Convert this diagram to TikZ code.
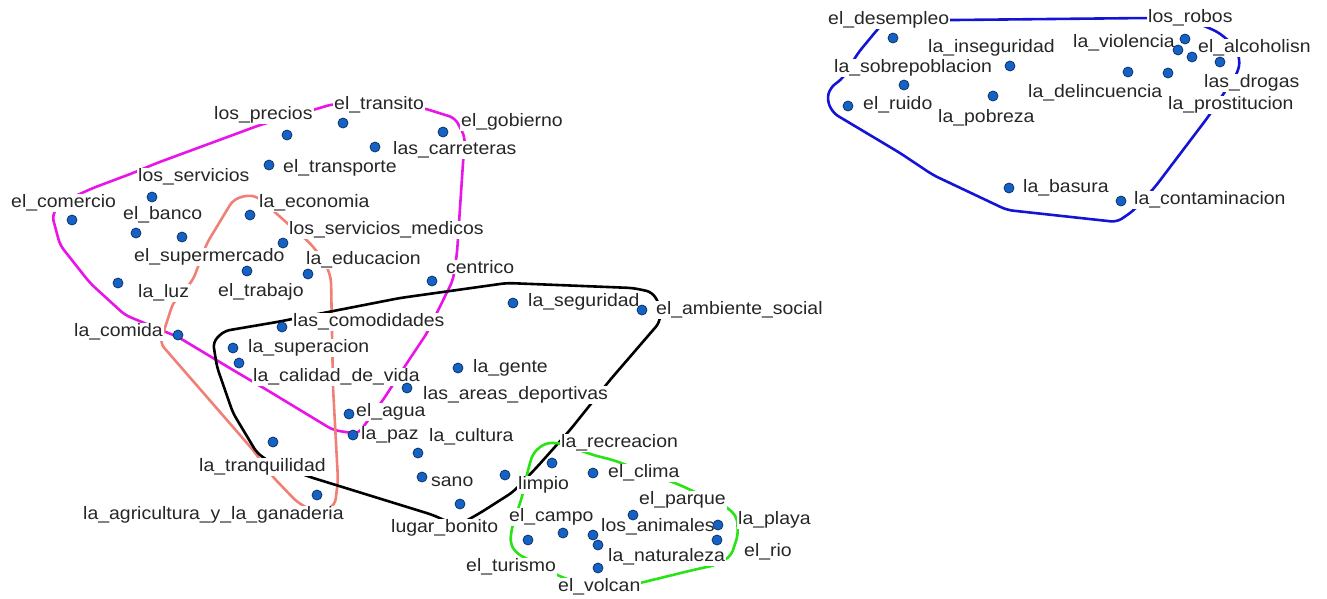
\documentclass[tikz,border=0pt]{standalone}
\usepackage{fontspec}
\setmainfont{Liberation Sans}[FakeStretch=1.08]
\usepackage{tikz}
\usepackage{xcolor}
\definecolor{dotblue}{RGB}{22,98,196}
\definecolor{hullmagenta}{RGB}{232,20,232}
\definecolor{hullsalmon}{RGB}{240,128,118}
\definecolor{hullgreen}{RGB}{40,228,20}
\definecolor{hullblue}{RGB}{20,20,215}
\tikzset{
    term-dot/.style = {circle, fill=dotblue, draw=dotblue!55!black, line width=0.8pt, minimum size=10pt, inner sep=0pt},
    term-label/.style = {anchor=west, fill=white, text=black!85, inner xsep=1pt, inner ysep=0.5pt, font=\fontsize{18pt}{20pt}\selectfont},
    hull-line/.style = {line width=2.6pt, rounded corners=6pt, line join=round},
}

\begin{document}
\begin{tikzpicture}[x=1pt, y=-1pt]
\useasboundingbox (0,0) rectangle (1327,598);

\draw[hull-line, hullmagenta] (52,215) -- (60,245) -- (90,283) -- (125,315) -- (178,337) -- (233,370) -- (267,390) -- (333,430) -- (358,434) -- (383,400) -- (407,363) -- (427,333) -- (453,280) -- (457,253) -- (463,163) -- (465,137) -- (455,118) -- (423,108) -- (333,104) -- (313,110) -- (260,125) -- (157,163) -- (133,173) -- (93,188) -- (62,202) -- cycle;
\draw[hull-line, hullsalmon] (207,243) -- (233,200) -- (247,195) -- (258,197) -- (287,223) -- (310,243) -- (325,262) -- (331,278) -- (333,387) -- (338,480) -- (335,505) -- (318,514) -- (297,502) -- (273,477) -- (253,450) -- (160,343) -- (173,303) -- (193,280) -- cycle;
\draw[hull-line, black] (257,453) -- (233,413) -- (217,367) -- (213,342) -- (224,331) -- (277,322) -- (400,298) -- (507,283) -- (633,288) -- (652,292) -- (660,305) -- (660,322) -- (610,380) -- (570,430) -- (537,467) -- (513,492) -- (480,513) -- (457,526) -- (433,515) -- (310,477) -- (270,462) -- cycle;
\draw[hull-line, hullgreen] (560,443) -- (545,443) -- (533,453) -- (528,470) -- (522,497) -- (512,527) -- (510,543) -- (516,553) -- (557,575) -- (600,592) -- (640,583) -- (693,570) -- (716,565) -- (731,556) -- (738,535) -- (737,517) -- (727,507) -- (680,485) -- (613,460) -- (593,455) -- cycle;
\draw[hull-line, hullblue] (955,20) -- (1147,18) -- (1195,22) -- (1218,32) -- (1235,46) -- (1240,60) -- (1238,72) -- (1208,117) -- (1155,187) -- (1133,211) -- (1117,222) -- (1007,210) -- (933,175) -- (900,153) -- (833,113) -- (827,100) -- (830,88) -- (843,78) -- (858,53) -- (877,30) -- (886,20) -- cycle;

\node[term-label] (precios-txt) at (213,115) {los\_precios};
\node[term-label] (transito-txt) at (333,105) {el\_transito};
\node[term-label] (gobierno-txt) at (460,122) {el\_gobierno};
\node[term-label] (carreteras-txt) at (392,150) {las\_carreteras};
\node[term-label] (transporte-txt) at (282,168) {el\_transporte};
\node[term-label] (servicios-txt) at (137,177) {los\_servicios};
\node[term-label] (comercio-txt) at (10,203) {el\_comercio};
\node[term-label] (banco-txt) at (122,215) {el\_banco};
\node[term-label] (economia-txt) at (258,203) {la\_economia};
\node[term-label] (medicos-txt) at (288,230) {los\_servicios\_medicos};
\node[term-label] (supermercado-txt) at (133,257) {el\_supermercado};
\node[term-label] (educacion-txt) at (305,260) {la\_educacion};
\node[term-label] (centrico-txt) at (445,267) {centrico};
\node[term-label] (trabajo-txt) at (217,292) {el\_trabajo};
\node[term-label] (luz-txt) at (137,293) {la\_luz};
\node[term-label] (comida-txt) at (73,332) {la\_comida};
\node[term-label] (comodidades-txt) at (292,322) {las\_comodidades};
\node[term-label] (superacion-txt) at (247,348) {la\_superacion};
\node[term-label] (calidad-txt) at (252,377) {la\_calidad\_de\_vida};
\node[term-label] (seguridad-txt) at (527,302) {la\_seguridad};
\node[term-label] (ambiente-txt) at (655,310) {el\_ambiente\_social};
\node[term-label] (gente-txt) at (472,368) {la\_gente};
\node[term-label] (areas-txt) at (422,395) {las\_areas\_deportivas};
\node[term-label] (agua-txt) at (355,412) {el\_agua};
\node[term-label] (paz-txt) at (360,435) {la\_paz};
\node[term-label] (cultura-txt) at (428,437) {la\_cultura};
\node[term-label] (tranquilidad-txt) at (198,467) {la\_tranquilidad};
\node[term-label] (sano-txt) at (430,482) {sano};
\node[term-label] (agricultura-txt) at (82,515) {la\_agricultura\_y\_la\_ganaderia};
\node[term-label] (bonito-txt) at (390,528) {lugar\_bonito};
\node[term-label] (limpio-txt) at (517,485) {limpio};
\node[term-label] (recreacion-txt) at (560,443) {la\_recreacion};
\node[term-label] (clima-txt) at (607,473) {el\_clima};
\node[term-label] (parque-txt) at (638,500) {el\_parque};
\node[term-label] (campo-txt) at (508,517) {el\_campo};
\node[term-label] (animales-txt) at (600,527) {los\_animales};
\node[term-label] (playa-txt) at (737,520) {la\_playa};
\node[term-label] (rio-txt) at (743,552) {el\_rio};
\node[term-label] (naturaleza-txt) at (607,557) {la\_naturaleza};
\node[term-label] (turismo-txt) at (465,567) {el\_turismo};
\node[term-label] (volcan-txt) at (557,587) {el\_volcan};

\node[term-label] (desempleo-txt) at (827,20) {el\_desempleo};
\node[term-label] (robos-txt) at (1147,18) {los\_robos};
\node[term-label] (inseguridad-txt) at (927,48) {la\_inseguridad};
\node[term-label] (violencia-txt) at (1072,43) {la\_violencia};
\node[term-label] (alcoholismo-txt) at (1197,48) {el\_alcoholisn};
\node[term-label] (sobrepoblacion-txt) at (833,68) {la\_sobrepoblacion};
\node[term-label] (drogas-txt) at (1203,83) {las\_drogas};
\node[term-label] (delincuencia-txt) at (1027,93) {la\_delincuencia};
\node[term-label] (prostitucion-txt) at (1167,105) {la\_prostitucion};
\node[term-label] (ruido-txt) at (862,105) {el\_ruido};
\node[term-label] (pobreza-txt) at (937,118) {la\_pobreza};
\node[term-label] (basura-txt) at (1022,188) {la\_basura};
\node[term-label] (contaminacion-txt) at (1133,200) {la\_contaminacion};

\node[term-dot] (precios) at (287,135) {};
\node[term-dot] (transito) at (343,123) {};
\node[term-dot] (gobierno) at (443,132) {};
\node[term-dot] (carreteras) at (375,147) {};
\node[term-dot] (transporte) at (269,165) {};
\node[term-dot] (servicios) at (152,197) {};
\node[term-dot] (comercio) at (72,220) {};
\node[term-dot] (banco) at (136,233) {};
\node[term-dot] (supermercado) at (182,237) {};
\node[term-dot] (economia) at (250,215) {};
\node[term-dot] (medicos) at (283,243) {};
\node[term-dot] (trabajo) at (247,271) {};
\node[term-dot] (educacion) at (308,274) {};
\node[term-dot] (centrico) at (432,281) {};
\node[term-dot] (luz) at (118,283) {};
\node[term-dot] (comida) at (178,335) {};
\node[term-dot] (comodidades) at (282,327) {};
\node[term-dot] (superacion) at (233,348) {};
\node[term-dot] (calidad) at (239,363) {};
\node[term-dot] (seguridad) at (513,303) {};
\node[term-dot] (ambiente) at (642,310) {};
\node[term-dot] (gente) at (458,368) {};
\node[term-dot] (areas) at (407,388) {};
\node[term-dot] (agua) at (349,414) {};
\node[term-dot] (paz) at (353,435) {};
\node[term-dot] (cultura) at (418,453) {};
\node[term-dot] (sano) at (422,477) {};
\node[term-dot] (tranquilidad) at (273,442) {};
\node[term-dot] (agricultura) at (317,495) {};
\node[term-dot] (bonito) at (460,504) {};
\node[term-dot] (limpio) at (505,475) {};
\node[term-dot] (recreacion) at (552,463) {};
\node[term-dot] (clima) at (593,473) {};
\node[term-dot] (parque) at (633,515) {};
\node[term-dot] (campo) at (563,533) {};
\node[term-dot] (animales) at (593,535) {};
\node[term-dot] (naturaleza) at (598,545) {};
\node[term-dot] (playa) at (718,525) {};
\node[term-dot] (rio) at (717,540) {};
\node[term-dot] (turismo) at (528,540) {};
\node[term-dot] (volcan) at (598,568) {};

\node[term-dot] (desempleo) at (893,38) {};
\node[term-dot] (robos) at (1185,39) {};
\node[term-dot] (violencia) at (1178,50) {};
\node[term-dot] (alcoholismo) at (1192,57) {};
\node[term-dot] (drogas) at (1220,62) {};
\node[term-dot] (prostitucion) at (1168,73) {};
\node[term-dot] (inseguridad) at (1010,66) {};
\node[term-dot] (sobrepoblacion) at (904,85) {};
\node[term-dot] (delincuencia) at (1128,72) {};
\node[term-dot] (ruido) at (848,106) {};
\node[term-dot] (pobreza) at (993,96) {};
\node[term-dot] (basura) at (1009,188) {};
\node[term-dot] (contaminacion) at (1121,201) {};
\end{tikzpicture}
\end{document}
